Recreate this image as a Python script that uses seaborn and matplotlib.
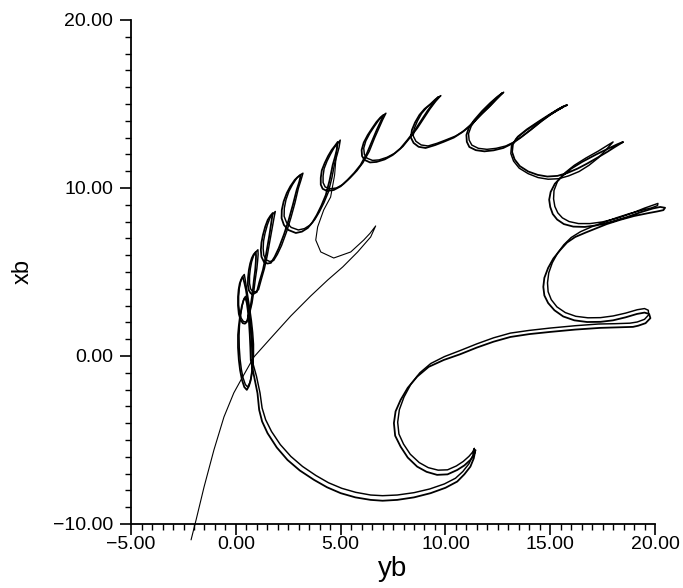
import numpy as np
import pandas as pd
import matplotlib
matplotlib.use("Agg")
import matplotlib.pyplot as plt
import seaborn as sns
from matplotlib.ticker import MultipleLocator, FuncFormatter

# ---- data (horizontal: yb, vertical: xb) ----
# first pass of the attractor cycle
pass1 = [
    (0.71, -0.24), (0.69, 0.5), (0.66, 1.3), (0.62, 2.1), (0.57, 2.7), (0.52, 3.15), (0.47, 3.38), (0.43, 3.45),
    (0.36, 3.3), (0.28, 2.95), (0.2, 2.4), (0.14, 1.8), (0.10, 1.25), (0.1, 0.5), (0.14, -0.24), (0.2, -0.85),
    (0.29, -1.43), (0.4, -1.85), (0.52, -2.02),
    (0.62, -1.8), (0.71, -1.43), (0.78, -0.8), (0.81, -0.24), (0.8, 0.5), (0.76, 1.25), (0.7, 2.0), (0.62, 2.74),
    (0.55, 3.35), (0.48, 3.93), (0.4, 4.38), (0.33, 4.70),
    (0.25, 4.55), (0.18, 4.3), (0.13, 3.95), (0.10, 3.51), (0.1, 3.0), (0.14, 2.5), (0.22, 2.15), (0.33, 1.95),
    (0.43, 1.92), (0.52, 2.02),
    (0.62, 2.5), (0.71, 3.04), (0.8, 3.8), (0.86, 4.52), (0.92, 5.1), (0.95, 5.6), (0.96, 5.95), (0.95, 6.19),
    (0.85, 6.05), (0.76, 5.83), (0.68, 5.5), (0.62, 5.12), (0.58, 4.65), (0.57, 4.23), (0.62, 3.9), (0.71, 3.72),
    (0.85, 3.7), (1.0, 3.81),
    (1.12, 4.4), (1.29, 5.12), (1.42, 5.9), (1.52, 6.61), (1.6, 7.2), (1.67, 7.8), (1.72, 8.2), (1.76, 8.51),
    (1.65, 8.35), (1.52, 8.1), (1.4, 7.7), (1.29, 7.2), (1.22, 6.75), (1.19, 6.31), (1.22, 5.9), (1.33, 5.62),
    (1.5, 5.5), (1.67, 5.54),
    (1.85, 5.9), (2.05, 6.43), (2.3, 7.25), (2.52, 8.1), (2.72, 9.0), (2.9, 9.88), (3.02, 10.35), (3.1, 10.77),
    (2.95, 10.65), (2.81, 10.48), (2.6, 10.1), (2.43, 9.7), (2.28, 9.2), (2.19, 8.69), (2.18, 8.2), (2.29, 7.8),
    (2.5, 7.5), (2.86, 7.32), (3.15, 7.4), (3.43, 7.62),
    (3.65, 7.95), (3.86, 8.39), (4.08, 8.95), (4.29, 9.58), (4.47, 10.45), (4.62, 11.37), (4.73, 11.85),
    (4.81, 12.26), (4.86, 12.74),
    (4.72, 12.5), (4.57, 12.26), (4.4, 11.9), (4.24, 11.49), (4.1, 11.05), (4.05, 10.6), (4.05, 10.2),
    (4.14, 9.95), (4.35, 9.82), (4.67, 9.88),
    (5.0, 10.1), (5.33, 10.48), (5.65, 10.9), (5.95, 11.37), (6.25, 12.05), (6.52, 12.86), (6.72, 13.45),
    (6.9, 13.93), (7.05, 14.35),
    (6.9, 14.2), (6.71, 13.93), (6.5, 13.55), (6.29, 13.15), (6.1, 12.7), (6.0, 12.26), (6.02, 11.9),
    (6.14, 11.67), (6.4, 11.52), (6.71, 11.55),
    (7.1, 11.7), (7.48, 11.96), (7.85, 12.35), (8.19, 12.86), (8.55, 13.45), (8.86, 14.05), (9.15, 14.6),
    (9.43, 15.06), (9.67, 15.42),
    (9.5, 15.25), (9.29, 15.0), (9.0, 14.7), (8.76, 14.35), (8.55, 13.9), (8.4, 13.45), (8.35, 13.0),
    (8.48, 12.68), (8.72, 12.45), (9.05, 12.38),
    (9.5, 12.55), (9.9, 12.74), (10.4, 13.0), (10.81, 13.33), (11.25, 13.8), (11.67, 14.35), (12.05, 14.8),
    (12.38, 15.24), (12.71, 15.65),
    (12.45, 15.4), (12.14, 15.06), (11.75, 14.58), (11.38, 14.05), (11.12, 13.6), (11.0, 13.15), (11.02, 12.75),
    (11.14, 12.44), (11.45, 12.25), (11.86, 12.18), (12.3, 12.24), (12.76, 12.38), (13.15, 12.62),
    (13.57, 12.98), (14.05, 13.45), (14.52, 13.93), (14.95, 14.32), (15.33, 14.64), (15.6, 14.84), (15.81, 14.94),
    (15.4, 14.7), (15.0, 14.4), (14.5, 14.0), (13.9, 13.5), (13.45, 13.05), (13.22, 12.6), (13.18, 12.14),
    (13.3, 11.7), (13.55, 11.3), (13.95, 10.98), (14.4, 10.78), (14.86, 10.68), (15.35, 10.72), (15.81, 10.89),
    (16.3, 11.15), (16.76, 11.45), (17.25, 11.8), (17.71, 12.14), (18.1, 12.45), (18.48, 12.74),
    (18.2, 12.6), (17.86, 12.4), (17.2, 12.0), (16.52, 11.55), (16.0, 11.15), (15.57, 10.7), (15.22, 10.25),
    (15.02, 9.76), (14.95, 9.3), (15.0, 8.87), (15.12, 8.45), (15.33, 8.12), (15.65, 7.85), (16.1, 7.7),
    (16.65, 7.68), (17.24, 7.78), (17.95, 8.0), (18.67, 8.27), (19.3, 8.55), (19.9, 8.78), (20.25, 8.87),
    (20.48, 8.82), (20.4, 8.68), (20.1, 8.6), (19.67, 8.5),
    (19.0, 8.33), (18.33, 8.1), (17.7, 7.85), (17.24, 7.62), (16.7, 7.35), (16.19, 7.08), (15.8, 6.75),
    (15.48, 6.31), (15.15, 5.8), (14.9, 5.24), (14.72, 4.65), (14.67, 4.11), (14.72, 3.6), (14.9, 3.15),
    (15.2, 2.72), (15.62, 2.35), (16.15, 2.12), (16.76, 2.02), (17.4, 2.03), (18.0, 2.12), (18.6, 2.3),
    (19.14, 2.5), (19.5, 2.58), (19.72, 2.5), (19.78, 2.25), (19.55, 1.95), (19.2, 1.8), (18.95, 1.73),
    (18.2, 1.7), (17.38, 1.67), (16.2, 1.57), (15.0, 1.43), (14.0, 1.3), (13.1, 1.13), (12.3, 0.85),
    (11.5, 0.5), (10.7, 0.1), (9.92, -0.24), (9.2, -0.65), (8.65, -1.23), (8.2, -1.9), (7.86, -2.62),
    (7.62, -3.3), (7.54, -4.0), (7.6, -4.75), (7.86, -5.4), (8.2, -6.05), (8.65, -6.59), (9.1, -6.9),
    (9.6, -7.08), (10.1, -7.05), (10.56, -6.79), (10.9, -6.52), (11.19, -6.19), (11.35, -5.9), (11.43, -5.6),
    (11.35, -6.1), (11.19, -6.59), (10.9, -7.05), (10.56, -7.48), (10.0, -7.85), (9.29, -8.17), (8.5, -8.42),
    (7.7, -8.57), (7.0, -8.62), (6.43, -8.57), (5.7, -8.42), (5.0, -8.17), (4.35, -7.82), (3.73, -7.38),
    (3.05, -6.82), (2.46, -6.19), (1.95, -5.45), (1.51, -4.6), (1.25, -3.9), (1.11, -3.21), (1.03, -2.22),
    (0.87, -1.23), (0.71, -0.24),
]

# second pass, running close to the first one
pass2 = [
    (0.78, -0.3), (0.76, 0.5), (0.72, 1.3), (0.66, 2.1), (0.6, 2.75), (0.55, 3.2), (0.5, 3.45), (0.46, 3.55),
    (0.38, 3.4), (0.3, 3.0), (0.22, 2.4), (0.17, 1.8), (0.15, 1.2), (0.16, 0.5), (0.2, -0.2), (0.26, -0.8),
    (0.34, -1.3), (0.45, -1.7), (0.56, -1.85),
    (0.66, -1.6), (0.74, -1.2), (0.8, -0.6), (0.84, 0.0), (0.84, 0.7), (0.8, 1.4), (0.74, 2.1), (0.66, 2.8),
    (0.58, 3.45), (0.51, 4.0), (0.45, 4.5), (0.4, 4.85),
    (0.3, 4.7), (0.22, 4.4), (0.16, 4.0), (0.13, 3.55), (0.13, 3.05), (0.17, 2.6), (0.25, 2.25), (0.36, 2.05),
    (0.47, 2.02), (0.57, 2.15),
    (0.67, 2.62), (0.77, 3.15), (0.86, 3.9), (0.93, 4.6), (1.0, 5.2), (1.04, 5.7), (1.06, 6.05), (1.05, 6.32),
    (0.94, 6.18), (0.84, 5.95), (0.75, 5.6), (0.69, 5.2), (0.65, 4.75), (0.65, 4.33), (0.7, 4.0), (0.8, 3.82),
    (0.94, 3.82), (1.08, 3.95),
    (1.2, 4.5), (1.36, 5.2), (1.5, 6.0), (1.6, 6.7), (1.69, 7.3), (1.77, 7.9), (1.83, 8.3), (1.88, 8.6),
    (1.76, 8.45), (1.62, 8.2), (1.5, 7.8), (1.39, 7.3), (1.32, 6.85), (1.3, 6.4), (1.33, 6.0), (1.44, 5.72),
    (1.62, 5.62), (1.8, 5.68),
    (1.98, 6.05), (2.18, 6.58), (2.42, 7.4), (2.63, 8.25), (2.82, 9.12), (2.98, 9.98), (3.1, 10.45), (3.2, 10.88),
    (3.04, 10.76), (2.9, 10.58), (2.7, 10.2), (2.53, 9.8), (2.39, 9.3), (2.31, 8.8), (2.3, 8.32), (2.42, 7.93),
    (2.64, 7.65), (2.98, 7.5), (3.27, 7.58), (3.55, 7.8),
    (3.77, 8.13), (3.98, 8.57), (4.2, 9.12), (4.41, 9.75), (4.58, 10.6), (4.72, 11.5), (4.83, 11.98),
    (4.92, 12.4), (4.98, 12.85),
    (4.83, 12.62), (4.68, 12.38), (4.51, 12.0), (4.35, 11.6), (4.21, 11.15), (4.16, 10.72), (4.16, 10.32),
    (4.26, 10.06), (4.48, 9.95), (4.8, 10.0),
    (5.12, 10.22), (5.45, 10.6), (5.77, 11.02), (6.06, 11.5), (6.36, 12.17), (6.62, 12.98), (6.82, 13.55),
    (7.0, 14.05), (7.16, 14.45),
    (7.0, 14.3), (6.81, 14.03), (6.6, 13.65), (6.39, 13.25), (6.2, 12.8), (6.1, 12.37), (6.13, 12.0),
    (6.26, 11.77), (6.52, 11.64), (6.83, 11.67),
    (7.22, 11.83), (7.6, 12.08), (7.97, 12.47), (8.3, 12.98), (8.66, 13.56), (8.97, 14.15), (9.26, 14.7),
    (9.53, 15.15), (9.78, 15.5),
    (9.6, 15.33), (9.39, 15.08), (9.1, 14.78), (8.86, 14.43), (8.66, 13.98), (8.51, 13.53), (8.46, 13.1),
    (8.59, 12.78), (8.84, 12.56), (9.17, 12.5),
    (9.6, 12.66), (10.0, 12.85), (10.5, 13.1), (10.92, 13.43), (11.35, 13.9), (11.77, 14.44), (12.14, 14.88),
    (12.46, 15.3), (12.78, 15.7),
    (12.53, 15.47), (12.22, 15.12), (11.84, 14.65), (11.48, 14.12), (11.23, 13.68), (11.1, 13.23),
    (11.13, 12.85), (11.26, 12.55), (11.57, 12.36), (11.98, 12.3), (12.42, 12.36), (12.88, 12.5),
    (13.26, 12.73), (13.67, 13.08), (14.14, 13.52), (14.6, 13.98), (15.0, 14.35), (15.36, 14.63), (15.6, 14.8),
    (15.25, 14.55), (14.85, 14.25), (14.35, 13.85), (13.8, 13.38), (13.38, 12.95), (13.15, 12.5), (13.12, 12.05),
    (13.25, 11.6), (13.52, 11.18), (13.95, 10.85), (14.42, 10.62), (14.9, 10.52), (15.4, 10.55), (15.88, 10.72),
    (16.38, 10.98), (16.85, 11.35), (17.3, 11.8), (17.65, 12.25), (17.9, 12.6), (18.0, 12.74),
    (17.75, 12.55), (17.3, 12.2), (16.7, 11.78), (16.15, 11.35), (15.7, 10.9), (15.35, 10.4), (15.18, 9.85),
    (15.16, 9.35), (15.22, 8.9), (15.36, 8.52), (15.58, 8.22), (15.9, 8.0), (16.35, 7.88), (16.9, 7.88),
    (17.5, 7.98), (18.2, 8.2), (18.9, 8.5), (19.5, 8.8), (19.95, 9.0), (20.14, 9.08), (20.12, 8.95),
    (19.85, 8.82), (19.4, 8.68),
    (18.8, 8.48), (18.15, 8.22), (17.55, 7.95), (17.0, 7.7), (16.45, 7.4), (16.0, 7.05), (15.65, 6.62),
    (15.35, 6.12), (15.1, 5.55), (14.93, 4.95), (14.87, 4.35), (14.9, 3.82), (15.05, 3.35), (15.32, 2.92),
    (15.72, 2.58), (16.22, 2.36), (16.8, 2.27), (17.4, 2.28), (18.0, 2.38), (18.6, 2.55), (19.15, 2.75),
    (19.5, 2.82), (19.68, 2.72), (19.7, 2.45), (19.5, 2.18), (19.15, 2.02), (18.8, 1.95), (18.1, 1.92),
    (17.3, 1.9), (16.2, 1.8), (15.0, 1.66), (14.0, 1.52), (13.1, 1.36), (12.3, 1.08), (11.5, 0.72),
    (10.7, 0.32), (9.95, -0.04), (9.3, -0.45), (8.78, -1.0), (8.35, -1.68), (8.02, -2.45), (7.8, -3.2),
    (7.72, -3.95), (7.78, -4.65), (8.0, -5.25), (8.32, -5.85), (8.75, -6.35), (9.18, -6.65), (9.65, -6.8),
    (10.1, -6.78), (10.52, -6.55), (10.85, -6.28), (11.12, -5.98), (11.3, -5.72), (11.38, -5.5),
    (11.3, -5.95), (11.12, -6.42), (10.83, -6.88), (10.48, -7.28), (9.95, -7.62), (9.25, -7.92), (8.5, -8.14),
    (7.7, -8.28), (7.0, -8.32), (6.43, -8.28), (5.72, -8.12), (5.05, -7.88), (4.42, -7.55), (3.82, -7.12),
    (3.18, -6.58), (2.62, -5.98), (2.12, -5.28), (1.7, -4.5), (1.42, -3.8), (1.25, -3.1), (1.15, -2.2),
    (0.98, -1.2), (0.78, -0.3),
]

# initial transient: thin curve rising from below the frame, U-turn, then joining the loops
transient = [
    (-2.14, -10.95), (-1.90, -9.76), (-1.52, -7.80), (-1.05, -5.60), (-0.57, -3.63), (-0.10, -2.20),
    (0.24, -1.43), (0.86, -0.06), (1.67, 1.07), (2.62, 2.38), (3.57, 3.57), (4.38, 4.52), (5.10, 5.30),
    (5.81, 6.19), (6.43, 7.08), (6.67, 7.74),
    (6.40, 7.3), (6.10, 6.90), (5.48, 6.19), (4.67, 5.83), (4.05, 6.19), (3.81, 6.90), (3.90, 7.68),
    (4.19, 8.69), (4.52, 9.46), (4.71, 10.77), (4.81, 12.26), (4.86, 12.74),
]

x_ticks = [-5, 0, 5, 10, 15, 20]
y_ticks = [-10, 0, 10, 20]

# ---- figure ----
sns.set_theme(style="white")
plt.rcParams['font.family'] = ['Liberation Sans', 'DejaVu Sans']
fig = plt.figure(figsize=(6.83, 5.88), dpi=100)
ax = fig.add_axes([0.192, 0.109, 0.767, 0.857])

def frame(points, name):
    return pd.DataFrame({"yb": [p[0] for p in points], "xb": [p[1] for p in points], "run": name})

sns.lineplot(data=frame(pass1, "a"), x="yb", y="xb", sort=False, estimator=None,
             color="black", lw=1.3, ax=ax)
sns.lineplot(data=frame(pass2, "b"), x="yb", y="xb", sort=False, estimator=None,
             color="black", lw=1.05, ax=ax)
sns.lineplot(data=frame(transient, "t"), x="yb", y="xb", sort=False, estimator=None,
             color="black", lw=0.8, ax=ax)
for ln in ax.lines:
    ln.set_clip_on(False)
    ln.set_solid_joinstyle("round")

ax.set_xlim(-5, 20)
ax.set_ylim(-10, 20)
ax.set_xticks(x_ticks)
ax.set_yticks(y_ticks)
ax.xaxis.set_minor_locator(MultipleLocator(0.5))
ax.yaxis.set_minor_locator(MultipleLocator(1))
fmt = FuncFormatter(lambda v, p: ("\u2212" if v < 0 else "") + f"{abs(v):.2f}")
ax.xaxis.set_major_formatter(fmt)
ax.yaxis.set_major_formatter(fmt)
ax.tick_params(which='major', direction='out', length=8, width=1.2, color='black',
               labelsize=14, labelcolor='black', bottom=True, left=True)
ax.tick_params(which='minor', direction='out', length=4.5, width=1.0, color='black',
               bottom=True, left=True)
ax.tick_params(axis='x', pad=1)
ax.tick_params(axis='y', pad=5)
for s in ['top', 'right']:
    ax.spines[s].set_visible(False)
for s in ['left', 'bottom']:
    ax.spines[s].set_color('black')
    ax.spines[s].set_linewidth(1.3)
ax.set_xlabel("yb", fontsize=20, color='black', labelpad=2)
ax.set_ylabel("xb", fontsize=17, color='black', labelpad=14)

fig.savefig("out.png", dpi=100, facecolor="white")
